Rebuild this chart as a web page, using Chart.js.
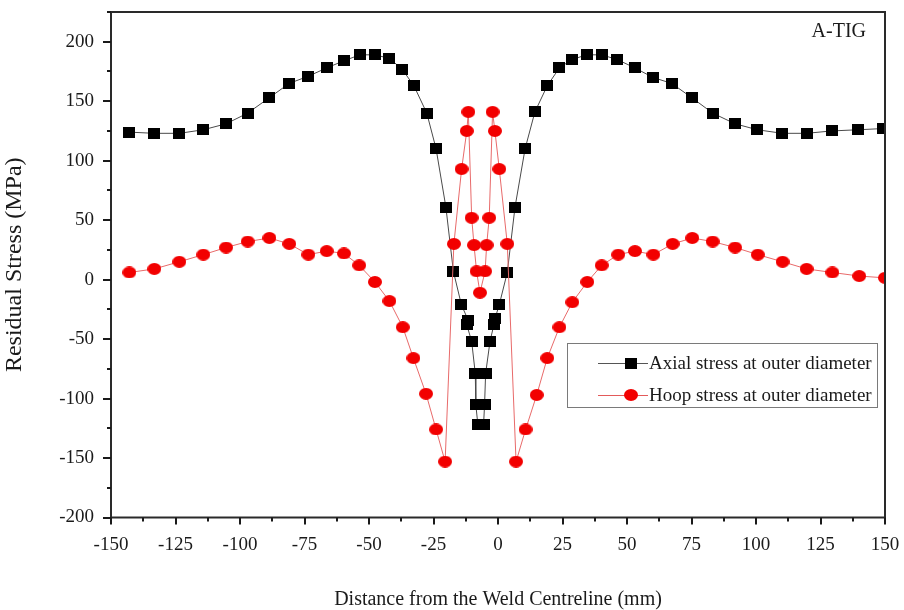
<!DOCTYPE html>
<html>
<head>
<meta charset="utf-8">
<script src="https://cdn.jsdelivr.net/npm/chart.js@4.4.1/dist/chart.umd.min.js"></script>
<style>
  html, body { margin: 0; padding: 0; background: #fff; }
  canvas { display: block; }
</style>
</head>
<body>
<canvas id="chart" width="904" height="610"></canvas>
<script>
// Axial residual stress along the outer diameter (distance in mm, stress in MPa)
const axialX = [-142.9, -133.2, -123.5, -114.2, -105.4, -97.0, -88.6, -80.9, -73.5, -66.4,
  -59.7, -53.5, -47.7, -42.1, -37.2, -32.6, -27.6, -24.0, -20.2, -17.3,
  -14.2, -11.6, -12.1, -10.2, -8.8, -8.6, -7.8, -5.6, -5.2, -4.8,
  -3.1, -1.6, -1.2, 0.5, 3.6, 6.6, 10.5, 14.3, 19.1, 23.8,
  28.6, 34.4, 40.2, 46.2, 53.1, 60.0, 67.3, 75.1, 83.2, 91.9,
  100.5, 110.2, 119.6, 129.3, 139.6, 149.3];
const axialY = [124, 123, 123, 126, 131, 140, 153, 165, 171, 178,
  184, 189, 189, 186, 177, 163, 140, 110, 61, 7,
  -21, -34, -38, -52, -79, -105, -122, -122, -105, -79,
  -52, -38, -33, -21, 6, 61, 110, 141, 163, 178,
  185, 189, 189, 185, 178, 170, 165, 153, 140, 131,
  126, 123, 123, 125, 126, 127];

// Hoop residual stress along the outer diameter
const hoopX = [-142.9, -133.2, -123.5, -114.2, -105.4, -97.0, -88.6, -80.9, -73.5, -66.4,
  -59.7, -53.8, -47.7, -42.1, -36.9, -32.8, -27.9, -24.0, -20.5, -17.1,
  -14.1, -12.1, -11.5, -10.2, -9.3, -8.3, -7.0, -5.0, -4.4, -3.4,
  -2.1, -1.2, 0.5, 3.6, 7.0, 10.7, 15.0, 19.1, 23.8, 28.8,
  34.6, 40.2, 46.6, 53.1, 60.2, 67.7, 75.3, 83.2, 91.9, 100.7,
  110.3, 119.6, 129.6, 140.0, 150.0];
const hoopY = [6, 9, 15, 21, 27, 32, 35, 30, 21, 24,
  22, 12, -2, -18, -40, -66, -96, -126, -153, 30,
  93, 125, 141, 52, 29, 7, -11, 7, 29, 52,
  141, 125, 93, 30, -153, -126, -97, -66, -40, -19,
  -2, 12, 21, 24, 21, 30, 35, 32, 27, 21,
  15, 9, 6, 3, 1.5];

const xTickLabels = [-150, -125, -100, -75, -50, -25, 0, 25, 50, 75, 100, 125, 150];
const yTickLabels = [-200, -150, -100, -50, 0, 50, 100, 150, 200];

const seriesNames = ['Axial stress at outer diameter', 'Hoop stress at outer diameter'];
const panelName = 'A-TIG';
const xTitle = 'Distance from the Weld Centreline (mm)';
const yTitle = 'Residual Stress (MPa)';

const SERIF = '"Liberation Serif", "Times New Roman", serif';
const INK = '#1a1a1a';

function toPoints(xs, ys) {
  return xs.map((x, i) => ({ x: x, y: ys[i] }));
}

// Marker bitmaps: a slightly wide black square and a slightly wide red ellipse
function squareMarker(w, h, color) {
  const c = document.createElement('canvas');
  c.width = w; c.height = h;
  const g = c.getContext('2d');
  g.fillStyle = color;
  g.fillRect(0, 0, w, h);
  return c;
}
function ellipseMarker(w, h, color) {
  const c = document.createElement('canvas');
  c.width = w; c.height = h;
  const g = c.getContext('2d');
  g.fillStyle = color;
  g.beginPath();
  g.ellipse(w / 2, h / 2, w / 2, h / 2, 0, 0, Math.PI * 2);
  g.fill();
  return c;
}
const squareImg = squareMarker(12, 11, '#000000');
const circleImg = ellipseMarker(14, 12, '#f20000');

// Axis frame, major/minor tick marks, panel tag and boxed legend
const decorations = {
  id: 'decorations',
  afterDraw(chart) {
    const ctx = chart.ctx;
    const a = chart.chartArea;
    const xs = chart.scales.x, ys = chart.scales.y;
    ctx.save();

    // frame
    ctx.strokeStyle = '#2a2a2a';
    ctx.lineWidth = 2;
    ctx.strokeRect(a.left, a.top, a.right - a.left, a.bottom - a.top);

    // tick marks
    ctx.strokeStyle = INK;
    ctx.lineWidth = 2;
    ctx.beginPath();
    xs.ticks.forEach(t => {
      const px = Math.round(xs.getPixelForValue(t.value));
      const len = xTickLabels.includes(t.value) ? 7 : 4;
      ctx.moveTo(px, a.bottom);
      ctx.lineTo(px, a.bottom + len);
    });
    ys.ticks.forEach(t => {
      const py = Math.round(ys.getPixelForValue(t.value));
      const len = yTickLabels.includes(t.value) ? 8 : 4;
      ctx.moveTo(a.left, py);
      ctx.lineTo(a.left - len, py);
    });
    ctx.stroke();

    // panel tag
    ctx.fillStyle = INK;
    ctx.font = '20px ' + SERIF;
    ctx.textAlign = 'right';
    ctx.textBaseline = 'middle';
    ctx.fillText(panelName, 866, 32);

    // legend box
    const bx = 567, by = 343, bw = 310, bh = 64;
    ctx.fillStyle = '#ffffff';
    ctx.fillRect(bx, by, bw, bh);
    ctx.strokeStyle = '#7a7a7a';
    ctx.lineWidth = 1;
    ctx.strokeRect(bx + 0.5, by + 0.5, bw, bh);

    const rows = [
      { y: 363, color: '#555555', img: squareImg },
      { y: 395, color: '#e35a5a', img: circleImg }
    ];
    chart.data.datasets.forEach((ds, i) => {
      const r = rows[i];
      ctx.strokeStyle = r.color;
      ctx.lineWidth = 1;
      ctx.beginPath();
      ctx.moveTo(598, r.y + 0.5);
      ctx.lineTo(648, r.y + 0.5);
      ctx.stroke();
      ctx.drawImage(r.img, 631 - r.img.width / 2, r.y - r.img.height / 2);
      ctx.fillStyle = INK;
      ctx.font = '19px ' + SERIF;
      ctx.textAlign = 'left';
      ctx.textBaseline = 'middle';
      ctx.fillText(ds.label, 649, r.y + 1);
    });

    ctx.restore();
  }
};

const tickFont = { family: SERIF, size: 19 };

new Chart(document.getElementById('chart'), {
  type: 'scatter',
  data: {
    datasets: [
      {
        label: seriesNames[0],
        data: toPoints(axialX, axialY),
        showLine: true,
        borderColor: '#4a4a4a',
        borderWidth: 1,
        pointStyle: squareImg,
        pointRadius: 6,
        order: 2
      },
      {
        label: seriesNames[1],
        data: toPoints(hoopX, hoopY),
        showLine: true,
        borderColor: '#e86a6a',
        borderWidth: 1,
        pointStyle: circleImg,
        pointRadius: 6,
        order: 1
      }
    ]
  },
  options: {
    responsive: false,
    animation: false,
    layout: { padding: { top: 12, right: 19, left: 0, bottom: 0 } },
    plugins: {
      legend: { display: false },
      tooltip: { enabled: false }
    },
    scales: {
      x: {
        type: 'linear',
        min: -150,
        max: 150,
        ticks: {
          stepSize: 12.5,
          autoSkip: false,
          maxRotation: 0,
          padding: 9,
          color: INK,
          font: tickFont,
          callback: v => (xTickLabels.includes(v) ? String(v) : '')
        },
        grid: { display: true, drawOnChartArea: false, color: 'rgba(0,0,0,0)', tickLength: 7 },
        border: { display: false },
        title: {
          display: true,
          text: xTitle,
          color: INK,
          font: { family: SERIF, size: 20 },
          padding: { top: 0, bottom: -2 }
        },
        afterFit: s => {
          s.height = 92.5;
          s.paddingLeft = 0;
          s.paddingRight = 0;
        }
      },
      y: {
        type: 'linear',
        min: -200,
        max: 225,
        ticks: {
          stepSize: 25,
          autoSkip: false,
          padding: 9,
          color: INK,
          font: tickFont,
          callback: v => (yTickLabels.includes(v) ? String(v) : '')
        },
        grid: { display: true, drawOnChartArea: false, color: 'rgba(0,0,0,0)', tickLength: 8 },
        border: { display: false },
        title: {
          display: true,
          text: yTitle,
          color: INK,
          font: { family: SERIF, size: 24 },
          padding: { top: 0, bottom: 6 }
        },
        afterFit: s => {
          s.width = 111;
          s.paddingTop = 0;
          s.paddingBottom = 0;
        }
      }
    }
  },
  plugins: [decorations]
});
</script>
</body>
</html>
